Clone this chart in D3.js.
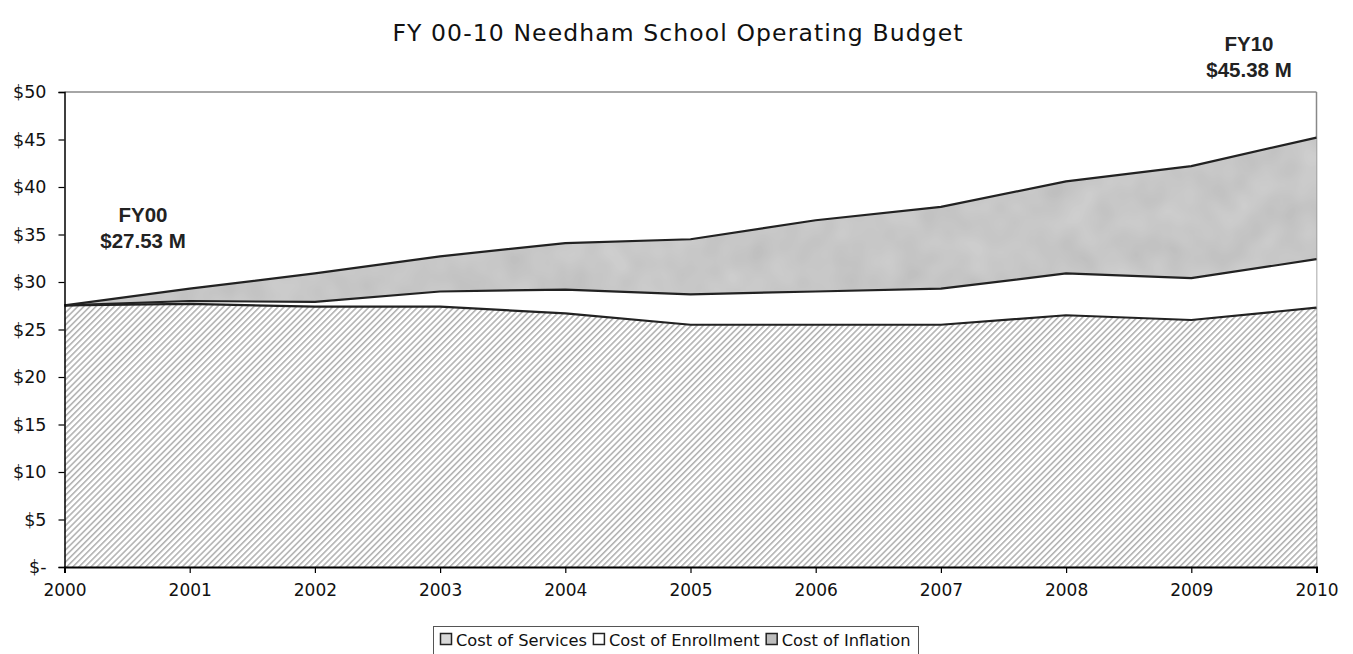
<!DOCTYPE html>
<html>
<head>
<meta charset="utf-8">
<script src="https://cdn.jsdelivr.net/npm/d3@7"></script>
<style>
  html, body { margin: 0; padding: 0; background: #fff; }
  svg { display: block; }
</style>
</head>
<body>
<svg id="chart" width="1353" height="654"></svg>
<script>
// ---- data ----
const years = [2000, 2001, 2002, 2003, 2004, 2005, 2006, 2007, 2008, 2009, 2010];
const costServices   = [27.53, 27.7, 27.4, 27.4, 26.7, 25.5, 25.5, 25.5, 26.5, 26.0, 27.3];
const costEnrollment = [0.0, 0.3, 0.5, 1.6, 2.5, 3.2, 3.5, 3.8, 4.4, 4.4, 5.1];
const costInflation  = [0.0, 1.3, 3.0, 3.7, 4.9, 5.8, 7.5, 8.6, 9.7, 11.8, 12.8];
const seriesNames = ["Cost of Services", "Cost of Enrollment", "Cost of Inflation"];
const yTicks = [0, 5, 10, 15, 20, 25, 30, 35, 40, 45, 50];
const chartTitle = "FY 00-10 Needham School Operating Budget";
const noteStart = ["FY00", "$27.53 M"];
const noteEnd = ["FY10", "$45.38 M"];

// ---- layout ----
const svg = d3.select("#chart");
const pLeft = 64.5, pRight = 1316.5, pTop = 92, pBottom = 567;

const x = d3.scaleLinear().domain([2000, 2010]).range([pLeft, pRight]);
const y = d3.scaleLinear().domain([0, 50]).range([pBottom, pTop]);

const table = years.map((yr, i) => ({
  year: yr,
  "Cost of Services": costServices[i],
  "Cost of Enrollment": costEnrollment[i],
  "Cost of Inflation": costInflation[i]
}));
const stacked = d3.stack().keys(seriesNames)(table);

// defs: hatch and mottled grey
const defs = svg.append("defs");
const hatch = defs.append("pattern")
  .attr("id", "hatch").attr("patternUnits", "userSpaceOnUse")
  .attr("width", 4.3).attr("height", 4.3)
  .attr("patternTransform", "rotate(45)");
hatch.append("rect").attr("width", 4.3).attr("height", 4.3).attr("fill", "#fff");
hatch.append("line").attr("x1", 0.8).attr("y1", 0).attr("x2", 0.8).attr("y2", 4.3)
  .attr("stroke", "#a2a2a2").attr("stroke-width", 1.3);

const filt = defs.append("filter").attr("id", "mottle")
  .attr("x", 0).attr("y", 0).attr("width", 1).attr("height", 1);
filt.append("feTurbulence").attr("type", "fractalNoise").attr("baseFrequency", "0.03")
  .attr("numOctaves", 2).attr("seed", 5).attr("result", "noise");
filt.append("feColorMatrix").attr("in", "noise").attr("type", "matrix")
  .attr("values", "0 0 0 0 0  0 0 0 0 0  0 0 0 0 0  0 0 0 0.22 0").attr("result", "dark");
filt.append("feComposite").attr("in", "dark").attr("in2", "SourceGraphic").attr("operator", "in").attr("result", "darkclip");
filt.append("feMerge").selectAll("feMergeNode").data(["SourceGraphic", "darkclip"]).join("feMergeNode").attr("in", d => d);

const fills = {
  "Cost of Services": "url(#hatch)",
  "Cost of Enrollment": "#ffffff",
  "Cost of Inflation": "#d2d2d2"
};

const area = d3.area().x(d => x(d.data.year)).y0(d => y(d[0])).y1(d => y(d[1]));
const line = d3.line().x(d => x(d.data.year)).y(d => y(d[1]));

// plot frame (top & right, grey)
svg.append("line").attr("x1", pLeft).attr("x2", pRight).attr("y1", y(50)).attr("y2", y(50))
  .attr("stroke", "#888").attr("stroke-width", 1.5);
svg.append("line").attr("x1", pRight).attr("x2", pRight).attr("y1", y(50)).attr("y2", pBottom)
  .attr("stroke", "#888").attr("stroke-width", 1.5);

svg.append("g").selectAll("path.area").data(stacked).join("path")
  .attr("class", "area")
  .attr("d", area)
  .attr("fill", d => fills[d.key])
  .attr("filter", d => d.key === "Cost of Inflation" ? "url(#mottle)" : null);

svg.append("g").selectAll("path.line").data(stacked).join("path")
  .attr("class", "line")
  .attr("d", line)
  .attr("fill", "none")
  .attr("stroke", "#222")
  .attr("stroke-width", 2.2)
  .attr("stroke-linejoin", "round");

// axes
const fontAxis = "'DejaVu Sans', sans-serif";
const yAxis = d3.axisLeft(y).tickValues(yTicks).tickSize(6).tickPadding(12)
  .tickFormat(v => v === 0 ? "$-" : "$" + v);
const gy = svg.append("g").attr("transform", `translate(${pLeft},0)`).call(yAxis);
gy.select(".domain").attr("stroke", "#000").attr("stroke-width", 1.5);
gy.selectAll(".tick line").attr("stroke", "#000").attr("stroke-width", 1.2);
gy.selectAll(".tick text").attr("font-family", fontAxis).attr("font-size", 17.5).attr("fill", "#111");

const xAxis = d3.axisBottom(x).tickValues(years).tickSize(6).tickPadding(11).tickFormat(d3.format("d"));
const gx = svg.append("g").attr("transform", `translate(0,${pBottom})`).call(xAxis);
gx.select(".domain").attr("stroke", "#000").attr("stroke-width", 2);
gx.selectAll(".tick line").attr("stroke", "#000").attr("stroke-width", 1.2);
gx.selectAll(".tick text").attr("font-family", fontAxis).attr("font-size", 17).attr("fill", "#111");

// title
svg.append("text").attr("x", 678).attr("y", 41).attr("text-anchor", "middle")
  .attr("font-family", fontAxis).attr("font-size", 23.5).attr("letter-spacing", 1.1).attr("fill", "#111")
  .text(chartTitle);

// annotations
const fontNote = "'Liberation Sans', Arial, sans-serif";
const n1 = svg.append("text").attr("text-anchor", "middle").attr("font-family", fontNote)
  .attr("font-weight", "bold").attr("font-size", 20.5).attr("fill", "#222");
n1.selectAll("tspan").data(noteStart).join("tspan")
  .attr("x", 143).attr("y", (d, i) => 222 + i * 26).text(d => d);
const n2 = svg.append("text").attr("text-anchor", "middle").attr("font-family", fontNote)
  .attr("font-weight", "bold").attr("font-size", 20.5).attr("fill", "#222");
n2.selectAll("tspan").data(noteEnd).join("tspan")
  .attr("x", 1249).attr("y", (d, i) => 51 + i * 26).text(d => d);

// legend
const lg = svg.append("g");
lg.append("rect").attr("x", 433.5).attr("y", 626.5).attr("width", 485).attr("height", 40)
  .attr("fill", "#fff").attr("stroke", "#555").attr("stroke-width", 1);
const legendFills = ["#d8d8d8", "#ffffff", "#bdbdbd"];
const items = lg.selectAll("g.item").data(seriesNames).join("g").attr("class", "item");
let cx = 440;
items.each(function(d, i) {
  const g = d3.select(this);
  g.append("rect").attr("x", cx + 0.5).attr("y", 633.5).attr("width", 11).attr("height", 11)
    .attr("fill", legendFills[i]).attr("stroke", "#222").attr("stroke-width", 1.5);
  const t = g.append("text").attr("x", cx + 16).attr("y", 646)
    .attr("font-family", fontAxis).attr("font-size", 16.3).attr("fill", "#111").text(d);
  cx += 16 + t.node().getComputedTextLength() + 6;
});
</script>
</body>
</html>
